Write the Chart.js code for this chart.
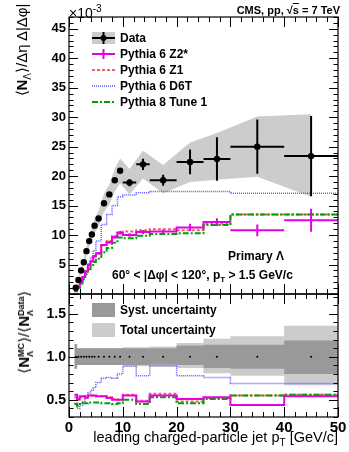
<!DOCTYPE html>
<html lang="en">
<head>
<meta charset="UTF-8">
<title>Primary Lambda yield vs leading jet pT</title>
<script src="https://cdn.jsdelivr.net/npm/chart.js"></script>
<style>
  html, body { margin: 0; padding: 0; background: #fff; }
  #wrap { position: relative; width: 349px; height: 452px; overflow: hidden;
          font-family: "Liberation Sans", Arial, sans-serif; color: #000; }
  canvas { position: absolute; left: 0; }
  #topChart { top: 0; }
  #ratioChart { top: 290px; }
  .t { position: absolute; white-space: nowrap; font-weight: bold; font-size: 12px; line-height: 14px; }
  .rc { position: absolute; white-space: nowrap; transform: translate(-50%, -50%) rotate(-90deg); font-size: 15px; line-height: 18px; }
  .stk { display: inline-block; vertical-align: -4px; font-size: 9px; line-height: 9px; font-weight: bold; text-align: left; }
</style>
</head>
<body>
<div id="wrap">
  <canvas id="topChart" width="349" height="300"></canvas>
  <canvas id="ratioChart" width="349" height="162"></canvas>

  <div class="t" style="left:69px;top:1px;font-weight:normal;font-size:14px;line-height:16px">×10<sup style="font-size:10px;vertical-align:6px">-3</sup></div>
  <div class="t" style="right:9px;top:3px;font-size:11px">CMS, pp, √<span style="text-decoration:overline">s</span> = 7 TeV</div>

  <div class="t" style="left:120px;top:31px">Data</div>
  <div class="t" style="left:120px;top:47px">Pythia 6 Z2*</div>
  <div class="t" style="left:120px;top:63px">Pythia 6 Z1</div>
  <div class="t" style="left:120px;top:79px">Pythia 6 D6T</div>
  <div class="t" style="left:120px;top:95px">Pythia 8 Tune 1</div>

  <div class="t" style="left:228px;top:249px">Primary Λ</div>
  <div class="t" style="left:112px;top:268px">60° &lt; |Δφ| &lt; 120°, p<sub style="font-size:8px">T</sub> &gt; 1.5 GeV/c</div>

  <div class="t" style="left:120px;top:303px">Syst. uncertainty</div>
  <div class="t" style="left:120px;top:323px">Total uncertainty</div>

  <div class="rc" style="left:25px;top:50px">⟨<b>N</b><sub style="font-size:10px">Λ</sub>⟩/Δη Δ|Δφ|</div>
  <div class="rc" style="left:25px;top:332px">⟨<b>N</b><span class="stk">MC<br>Λ</span>⟩/⟨<b>N</b><span class="stk">Data<br>Λ</span>⟩</div>
  <div class="t" style="right:11px;top:429px;font-weight:normal;font-size:14.5px;line-height:17px">leading charged-particle jet p<sub style="font-size:10px">T</sub> [GeV/c]</div>
</div>

<script>
// bins of leading charged-particle jet pT [GeV/c]
const binLo = [1, 1.5, 2, 2.5, 3, 3.5, 4, 4.5, 5, 6, 7, 8, 9, 10, 12.5, 15, 20, 25, 30, 40];
const binHi = [1.5, 2, 2.5, 3, 3.5, 4, 4.5, 5, 6, 7, 8, 9, 10, 12.5, 15, 20, 25, 30, 40, 50];

// top panel, units of 1e-3
const dataVal = [1.07, 2.39, 3.98, 5.39, 7.27, 8.98, 10.1, 11.6, 12.8, 15.4, 16.9, 19.3, 20.9, 18.9, 22.0, 19.3, 22.4, 22.9, 25.0, 23.4];
const dataErr = [0.05, 0.07, 0.1, 0.1, 0.12, 0.15, 0.15, 0.2, 0.2, 0.25, 0.3, 0.4, 0.45, 0.6, 0.95, 0.95, 2.1, 3.7, 4.6, 6.8];
const bandHigh = [1.23, 2.63, 4.38, 5.93, 8.0, 9.88, 11.1, 12.8, 14.1, 17.0, 18.6, 21.2, 23.0, 21.2, 24.3, 21.9, 25.7, 27.3, 30.1, 30.5];
const bandLow = [0.91, 2.15, 3.58, 4.85, 6.55, 8.08, 9.1, 10.4, 11.5, 13.9, 15.2, 17.4, 18.8, 16.9, 19.6, 17.1, 19.0, 19.4, 19.9, 16.5];

const mcZ2 = [0.6, 1.22, 2.15, 2.9, 3.8, 4.9, 5.55, 6.4, 6.9, 8.3, 8.8, 9.65, 10.4, 10.0, 10.5, 10.6, 11.3, 12.2, 10.8, 12.5];
const mcZ2Err = [0.05, 0.08, 0.1, 0.1, 0.12, 0.15, 0.15, 0.18, 0.18, 0.2, 0.22, 0.25, 0.3, 0.3, 0.35, 0.35, 0.6, 0.65, 1.0, 1.95];
const mcZ1 = [0.57, 1.2, 2.1, 2.9, 3.85, 4.9, 5.55, 6.4, 6.9, 8.3, 9.0, 9.85, 10.45, 10.6, 10.8, 11.0, 10.8, 11.9, 13.5, 13.5];
const mcD6T = [0.49, 0.96, 1.75, 2.6, 3.85, 5.2, 6.2, 7.4, 9.0, 11.8, 13.5, 15.0, 16.5, 16.8, 17.2, 17.4, 17.4, 17.4, 17.1, 17.1];
const mcP8 = [0.48, 1.03, 1.79, 2.48, 3.34, 4.22, 4.75, 5.45, 6.0, 7.1, 7.8, 8.7, 9.6, 9.45, 9.9, 10.2, 10.3, 11.7, 13.5, 13.5];

// ratio panel MC / data
const ratioZ2 = [0.56, 0.51, 0.54, 0.54, 0.525, 0.55, 0.55, 0.55, 0.54, 0.54, 0.52, 0.50, 0.50, 0.55, 0.48, 0.55, 0.51, 0.53, 0.44, 0.54];
const ratioZ1 = [0.53, 0.50, 0.53, 0.54, 0.53, 0.55, 0.55, 0.55, 0.54, 0.54, 0.53, 0.51, 0.50, 0.56, 0.49, 0.57, 0.48, 0.52, 0.55, 0.56];
const ratioD6T = [0.46, 0.40, 0.44, 0.48, 0.53, 0.58, 0.61, 0.64, 0.70, 0.75, 0.76, 0.75, 0.80, 0.89, 0.78, 0.90, 0.78, 0.76, 0.69, 0.69];
const ratioP8 = [0.45, 0.43, 0.45, 0.46, 0.46, 0.47, 0.47, 0.47, 0.47, 0.46, 0.46, 0.45, 0.46, 0.50, 0.45, 0.53, 0.46, 0.51, 0.55, 0.56];
const ratioData = [1, 1, 1, 1, 1, 1, 1, 1, 1, 1, 1, 1, 1, 1, 1, 1, 1, 1, 1, 1];

const systHigh = [1.15, 1.10, 1.10, 1.10, 1.10, 1.10, 1.10, 1.10, 1.10, 1.10, 1.10, 1.10, 1.10, 1.10, 1.10, 1.10, 1.13, 1.14, 1.14, 1.19];
const systLow = [0.86, 0.905, 0.905, 0.905, 0.905, 0.905, 0.905, 0.905, 0.905, 0.905, 0.905, 0.905, 0.905, 0.905, 0.905, 0.91, 0.905, 0.87, 0.86, 0.80];
const totHigh = [1.15, 1.10, 1.10, 1.10, 1.10, 1.10, 1.10, 1.10, 1.10, 1.10, 1.10, 1.10, 1.10, 1.11, 1.11, 1.12, 1.16, 1.21, 1.24, 1.36];
const totLow = [0.86, 0.905, 0.905, 0.905, 0.905, 0.905, 0.905, 0.905, 0.905, 0.905, 0.905, 0.905, 0.905, 0.89, 0.89, 0.88, 0.87, 0.81, 0.78, 0.67];

const xTicks = [0, 10, 20, 30, 40, 50];
const yTicksTop = [5, 10, 15, 20, 25, 30, 35, 40, 45];
const yTicksRatio = [0.5, 1, 1.5];

const MAGENTA = '#e600e6', RED = '#f06060', BLUE = '#5a5aff', GREEN = '#00a000';
const LIGHT = '#cccccc', DARK = '#999999';

Chart.defaults.font.family = '"Liberation Sans", Arial, sans-serif';

// helpers turning bin arrays into points
const centers = binLo.map((lo, i) => (lo + binHi[i]) / 2);
function steps(vals, n) {
  n = n || vals.length;
  const pts = [];
  for (let i = 0; i < n; i++) pts.push({ x: binLo[i], y: vals[i] });
  pts.push({ x: binHi[n - 1], y: vals[n - 1] });
  return pts;
}
function atCenters(vals) { return centers.map((c, i) => ({ x: c, y: vals[i] })); }
function errBars(vals, errs, hFrom) {
  const pts = [];
  vals.forEach((v, i) => {
    if (i >= hFrom) pts.push({ x: binLo[i], y: v }, { x: binHi[i], y: v }, { x: binHi[i], y: null });
    pts.push({ x: centers[i], y: v - errs[i] }, { x: centers[i], y: v + errs[i] }, { x: centers[i], y: null });
  });
  return pts;
}
function line(data, color, width, dash, order, extra) {
  return Object.assign({ data, borderColor: color, borderWidth: width, borderDash: dash || [],
    pointRadius: 0, fill: false, order, spanGaps: false }, extra || {});
}
function stepLine(vals, n, color, width, dash, order, extra) {
  return line(steps(vals, n), color, width, dash, order, Object.assign({ stepped: true }, extra || {}));
}

// ROOT-like frame with inward ticks on all four sides
const framePlugin = {
  id: 'frame',
  afterDraw(chart) {
    const o = chart.options.plugins.frame;
    const { ctx, chartArea: a, scales } = chart;
    ctx.save();
    ctx.strokeStyle = '#000';
    ctx.lineWidth = 1.2;
    ctx.strokeRect(a.left, a.top, a.right - a.left, a.bottom - a.top);
    ctx.lineWidth = 1;
    ctx.beginPath();
    const xs = scales.x, ys = scales.y;
    for (let v = Math.ceil(xs.min / o.xMinor - 1e-9) * o.xMinor; v <= xs.max + 1e-9; v += o.xMinor) {
      const p = Math.round(xs.getPixelForValue(v)) + 0.5;
      const len = Math.abs(v / o.xMajor - Math.round(v / o.xMajor)) < 1e-6 ? o.xLen : o.xLen / 2;
      ctx.moveTo(p, a.bottom); ctx.lineTo(p, a.bottom - len);
      ctx.moveTo(p, a.top); ctx.lineTo(p, a.top + len);
    }
    for (let v = Math.ceil(ys.min / o.yMinor - 1e-9) * o.yMinor; v <= ys.max + 1e-9; v += o.yMinor) {
      const p = Math.round(ys.getPixelForValue(v)) + 0.5;
      const len = Math.abs(v / o.yMajor - Math.round(v / o.yMajor)) < 1e-6 ? 9 : 4.5;
      ctx.moveTo(a.left, p); ctx.lineTo(a.left + len, p);
      ctx.moveTo(a.right, p); ctx.lineTo(a.right - len, p);
    }
    ctx.stroke();
    ctx.restore();
  }
};

function seg(ctx, x1, y1, x2, y2) { ctx.beginPath(); ctx.moveTo(x1, y1); ctx.lineTo(x2, y2); ctx.stroke(); }

const topLegend = {
  id: 'topLegend',
  afterDraw(chart) {
    const c = chart.ctx;
    c.save();
    c.fillStyle = LIGHT; c.fillRect(92, 32, 23, 12);
    c.strokeStyle = '#000'; c.lineWidth = 2;
    seg(c, 92, 38, 115, 38); seg(c, 103.5, 32, 103.5, 44);
    c.fillStyle = '#000'; c.beginPath(); c.arc(103.5, 38, 3, 0, 2 * Math.PI); c.fill();
    c.strokeStyle = MAGENTA; seg(c, 92, 54, 115, 54); seg(c, 103.5, 49, 103.5, 59);
    c.strokeStyle = RED; c.setLineDash([3, 2]); seg(c, 92, 70, 115, 70);
    c.strokeStyle = BLUE; c.lineWidth = 1.5; c.setLineDash([1, 1]); seg(c, 92, 86, 115, 86);
    c.strokeStyle = GREEN; c.lineWidth = 2; c.setLineDash([6, 2, 2, 2]); seg(c, 92, 102, 115, 102);
    c.restore();
  }
};

const ratioLegend = {
  id: 'ratioLegend',
  afterDraw(chart) {
    const c = chart.ctx;
    c.save();
    c.fillStyle = DARK; c.fillRect(92, 13, 23, 14);
    c.fillStyle = LIGHT; c.fillRect(92, 33, 23, 14);
    c.restore();
  }
};

const tickFont = size => ({ family: '"Liberation Sans", Arial, sans-serif', size, weight: 'bold' });
// keep the plot frames exactly where the layout padding puts them
const noPad = s => { s.paddingTop = 0; s.paddingBottom = 0; };

new Chart(document.getElementById('topChart'), {
  type: 'line',
  data: {
    datasets: [
      line(atCenters(dataVal), '#000', 0, [], 0, { showLine: false, pointRadius: 3.2, pointBackgroundColor: '#000', pointBorderWidth: 0 }),
      line(errBars(dataVal, dataErr, 0), '#000', 2, [], 1),
      stepLine(mcZ2, 18, MAGENTA, 2, [], 2),
      line(errBars(mcZ2, mcZ2Err, 18), MAGENTA, 2, [], 2),
      stepLine(mcZ1, 0, RED, 2, [3, 2], 4),
      stepLine(mcP8, 0, GREEN, 2, [6, 2, 2, 2], 3),
      stepLine(mcD6T, 0, BLUE, 1.5, [1, 1], 5),
      line(atCenters(bandHigh), LIGHT, 0, [], 10, { fill: '+1', backgroundColor: LIGHT }),
      line(atCenters(bandLow), LIGHT, 0, [], 11)
    ]
  },
  options: {
    responsive: false,
    animation: false,
    devicePixelRatio: 1,
    layout: { padding: { left: 0, right: 11, top: 17, bottom: 0 } },
    plugins: {
      legend: { display: false },
      tooltip: { enabled: false },
      frame: { xMinor: 2, xMajor: 10, xLen: 10, yMinor: 1, yMajor: 5 }
    },
    scales: {
      x: {
        type: 'linear', min: 0, max: 50,
        grid: { display: false, drawTicks: false }, border: { display: false },
        ticks: { display: false },
        afterFit: s => { s.height = 6; }
      },
      y: {
        type: 'linear', min: 0, max: 47,
        grid: { display: false, drawTicks: false }, border: { display: false },
        afterBuildTicks: s => { s.ticks = yTicksTop.map(v => ({ value: v })); },
        ticks: { padding: 3, color: '#000', font: tickFont(13) },
        afterFit: s => { s.width = 69; noPad(s); }
      }
    }
  },
  plugins: [framePlugin, topLegend]
});

new Chart(document.getElementById('ratioChart'), {
  type: 'line',
  data: {
    datasets: [
      line(atCenters(ratioData), '#000', 0, [], 0, { showLine: false, pointRadius: 1, pointBackgroundColor: '#000', pointBorderWidth: 0 }),
      stepLine(ratioZ2, 0, MAGENTA, 2, [], 1),
      stepLine(ratioZ1, 0, RED, 2, [3, 2], 3),
      stepLine(ratioP8, 0, GREEN, 2, [6, 2, 2, 2], 2),
      stepLine(ratioD6T, 0, BLUE, 1.5, [1, 1], 4),
      stepLine(systHigh, 0, DARK, 0, [], 10, { fill: '+1', backgroundColor: DARK }),
      stepLine(systLow, 0, DARK, 0, [], 11),
      stepLine(totHigh, 0, LIGHT, 0, [], 12, { fill: '+1', backgroundColor: LIGHT }),
      stepLine(totLow, 0, LIGHT, 0, [], 13)
    ]
  },
  options: {
    responsive: false,
    animation: false,
    devicePixelRatio: 1,
    layout: { padding: { left: 0, right: 11, top: 4, bottom: 0 } },
    plugins: {
      legend: { display: false },
      tooltip: { enabled: false },
      frame: { xMinor: 2, xMajor: 10, xLen: 10, yMinor: 0.1, yMajor: 0.5 }
    },
    scales: {
      x: {
        type: 'linear', min: 0, max: 50,
        grid: { display: false, drawTicks: false }, border: { display: false },
        afterBuildTicks: s => { s.ticks = xTicks.map(v => ({ value: v })); },
        ticks: { padding: 2, color: '#000', font: tickFont(15), maxRotation: 0 },
        afterFit: s => { s.height = 35; }
      },
      y: {
        type: 'linear', min: 0.3, max: 1.73,
        grid: { display: false, drawTicks: false }, border: { display: false },
        afterBuildTicks: s => { s.ticks = yTicksRatio.map(v => ({ value: v })); },
        ticks: { padding: 3, color: '#000', font: tickFont(14) },
        afterFit: s => { s.width = 69; noPad(s); }
      }
    }
  },
  plugins: [framePlugin, ratioLegend]
});
</script>
</body>
</html>
